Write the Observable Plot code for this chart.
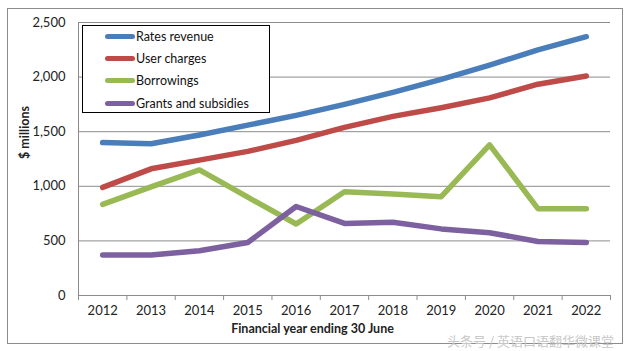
<!DOCTYPE html>
<html>
<head>
<meta charset="utf-8">
<script src="https://cdn.jsdelivr.net/npm/d3@7"></script>
<script src="https://cdn.jsdelivr.net/npm/@observablehq/plot@0.6"></script>
<style>
  body { margin: 0; background: #fff; font-family: Lato, sans-serif; }
  #wrap { position: relative; width: 626px; height: 351px; }
  #frame { position: absolute; left: 7px; top: 8px; width: 614px; height: 334px; border: 1.5px solid #8c8c8c; }
  #legend { position: absolute; left: 82px; top: 25px; width: 186px; height: 86px; border: 1.5px solid #000; background: #fff; }
  .item { position: absolute; left: 22px; display: flex; align-items: center; font-size: 12.5px; color: #111; }
  .swatch { width: 30px; height: 5px; border-radius: 3px; margin-right: 1px; }
  #watermark { position: absolute; left: 447px; top: 331px; font-size: 13px; color: #c8c8c8; font-family: "Noto Sans CJK SC", sans-serif; }
</style>
</head>
<body>
<div id="wrap">
  <div id="frame"></div>
  <div id="chart"></div>
  <div id="legend"></div>
  <div id="watermark">头条号 / 英语口语翻华微课堂</div>
</div>
<script>
const years = [2012, 2013, 2014, 2015, 2016, 2017, 2018, 2019, 2020, 2021, 2022];
const seriesNames = ["Rates revenue", "User charges", "Borrowings", "Grants and subsidies"];
const ratesRevenue = [1400, 1390, 1470, 1560, 1650, 1750, 1860, 1980, 2110, 2250, 2370];
const userCharges = [990, 1160, 1240, 1320, 1420, 1540, 1640, 1720, 1810, 1935, 2010];
const borrowings = [835, 995, 1150, 900, 655, 950, 930, 905, 1380, 795, 795];
const grants = [370, 370, 410, 485, 815, 660, 670, 610, 575, 495, 485];
const colors = ["#4a7ebb", "#be4b48", "#98b954", "#7d60a0"];
const yTicks = [0, 500, 1000, 1500, 2000, 2500];
const xTitle = "Financial year ending 30 June";
const yTitle = "$ millions";

const seriesValues = [ratesRevenue, userCharges, borrowings, grants];
const data = seriesNames.flatMap((name, i) => years.map((year, j) => ({name, year, value: seriesValues[i][j]})));
const boundaries = [...years.map(y => y - 0.5), years[years.length - 1] + 0.5];

const chart = Plot.plot({
  width: 626,
  height: 351,
  marginLeft: 78,
  marginRight: 16,
  marginTop: 22,
  marginBottom: 56,
  style: { fontFamily: "Lato, sans-serif", fontSize: "13px", color: "#222", background: "transparent" },
  x: { domain: [boundaries[0], boundaries[boundaries.length - 1]] },
  y: { domain: [0, 2500] },
  color: { domain: seriesNames, range: colors },
  marks: [
    Plot.gridY(yTicks, { stroke: "#8c8c8c", strokeOpacity: 1, strokeWidth: 1 }),
    Plot.ruleX([boundaries[0]], { stroke: "#8c8c8c", strokeWidth: 1 }),
    Plot.ruleY([0], { stroke: "#8c8c8c", strokeWidth: 1 }),
    Plot.axisY(yTicks, { tickSize: 0, tickPadding: 13, tickFormat: d3.format(","), label: null, fontSize: 13 }),
    Plot.axisX(years, { tickSize: 0, tickPadding: 10, tickFormat: d => String(d), label: null, fontSize: 13 }),
    Plot.axisX(boundaries, { tickSize: 5, tickFormat: () => "", label: null, stroke: "#8c8c8c" }),
    Plot.line(data, { x: "year", y: "value", z: "name", stroke: "name", strokeWidth: 5.5, strokeLinecap: "round", strokeLinejoin: "round" }),
    Plot.text([yTitle], { frameAnchor: "left", rotate: -90, dx: -54, fontWeight: "bold", fontSize: 12.5 }),
    Plot.text([xTitle], { frameAnchor: "bottom", dx: -32, dy: 37, fontWeight: "bold", fontSize: 12.5 })
  ]
});
document.getElementById("chart").appendChild(chart);

const legend = document.getElementById("legend");
seriesNames.forEach((name, i) => {
  const item = document.createElement("div");
  item.className = "item";
  item.style.top = (3 + i * 22.2) + "px";
  const sw = document.createElement("span");
  sw.className = "swatch";
  sw.style.background = colors[i];
  const label = document.createElement("span");
  label.textContent = name;
  item.appendChild(sw);
  item.appendChild(label);
  legend.appendChild(item);
});
</script>
</body>
</html>
